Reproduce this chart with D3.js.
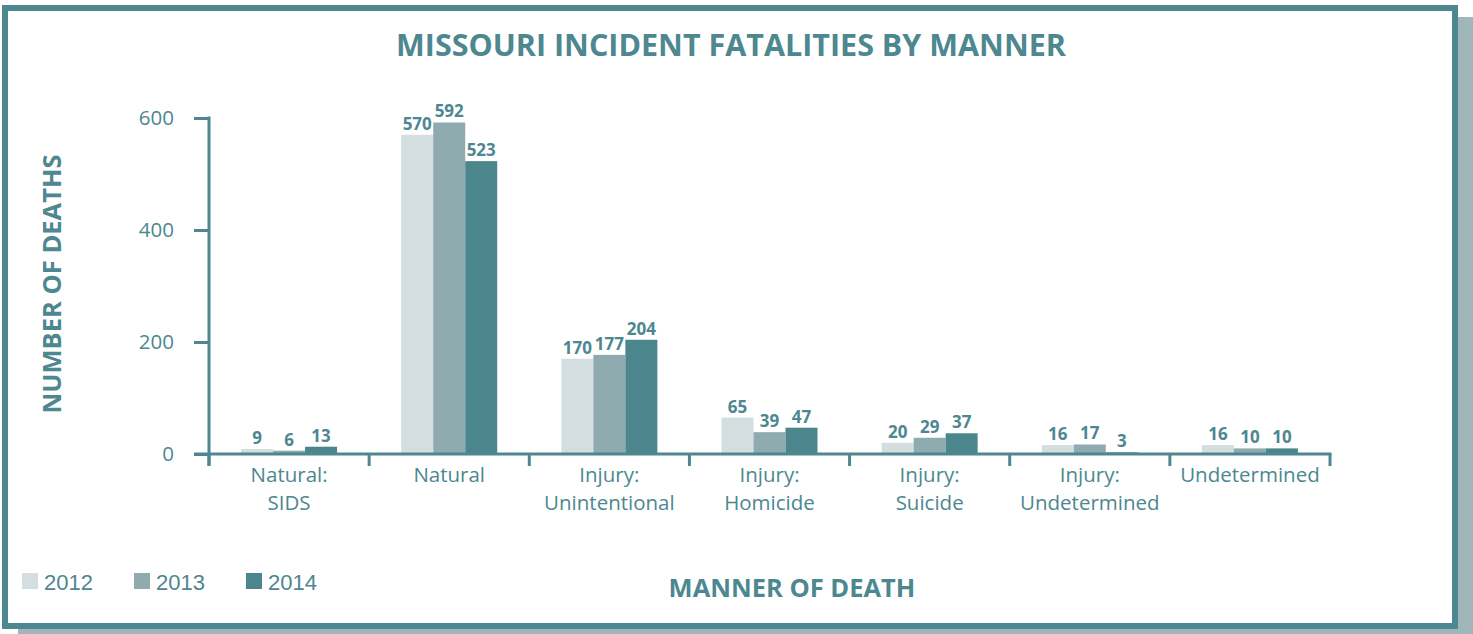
<!DOCTYPE html>
<html>
<head>
<meta charset="utf-8">
<script src="https://cdn.jsdelivr.net/npm/d3@7"></script>
<style>
  body { margin: 0; background: #fff; }
  text { font-family: "Open Sans", "Noto Sans", sans-serif; fill: #4d8790; }
</style>
</head>
<body>
<div id="chart"></div>
<script>
// data
const categories = [
    ["Natural:", "SIDS"],
    ["Natural"],
    ["Injury:", "Unintentional"],
    ["Injury:", "Homicide"],
    ["Injury:", "Suicide"],
    ["Injury:", "Undetermined"],
    ["Undetermined"]
];
const years = ["2012", "2013", "2014"];
const values2012 = [9, 570, 170, 65, 20, 16, 16];
const values2013 = [6, 592, 177, 39, 29, 17, 10];
const values2014 = [13, 523, 204, 47, 37, 3, 10];
const yTicks = [0, 200, 400, 600];
const colors = ["#d4dddf", "#90abb0", "#4c868d"];

const W = 1473, H = 634;
const teal = "#4d8790";

let svg = d3.select("#chart").append("svg")
    .attr("width", W)
    .attr("height", H);

// frame with shadow
svg.append("rect")
    .attr("x", 18).attr("y", 17)
    .attr("width", W - 18).attr("height", H - 17)
    .attr("fill", "#a0b6bb");
svg.append("rect")
    .attr("x", 5).attr("y", 8)
    .attr("width", 1450).attr("height", 618)
    .attr("fill", "#fff")
    .attr("stroke", teal)
    .attr("stroke-width", 6);

// title
svg.append("text")
    .attr("x", 731).attr("y", 56)
    .attr("text-anchor", "middle")
    .attr("font-weight", "bold")
    .attr("font-size", 30.5)
    .text("MISSOURI INCIDENT FATALITIES BY MANNER");

let margin = {left: 209, top: 118};
let width = 1330 - 209, height = 454 - 118;

let g = svg.append("g")
    .attr("transform", "translate(" + margin.left + "," + margin.top + ")");

// scales
let x0 = d3.scaleBand()
    .domain(d3.range(categories.length))
    .range([0, width]);
let x1 = d3.scaleBand()
    .domain(years)
    .range([(x0.bandwidth() - 96) / 2, (x0.bandwidth() + 96) / 2]);
let y = d3.scaleLinear()
    .domain([0, 600])
    .range([height, 0]);

let color = d3.scaleOrdinal().domain(years).range(colors);

// rows for grouped bars
let series = [values2012, values2013, values2014];
let rows = [];
categories.forEach((c, i) => {
    years.forEach((yr, j) => {
        rows.push({cat: i, year: yr, value: series[j][i]});
    });
});

// bars
g.selectAll(".bar")
    .data(rows)
    .enter()
    .append("rect")
    .attr("class", "bar")
    .attr("x", d => x0(d.cat) + x1(d.year))
    .attr("y", d => y(d.value))
    .attr("width", x1.bandwidth())
    .attr("height", d => height - y(d.value))
    .attr("fill", d => color(d.year));

// value labels
g.selectAll(".labels")
    .data(rows)
    .enter()
    .append("text")
    .attr("class", "labels")
    .attr("x", d => x0(d.cat) + x1(d.year) + x1.bandwidth() / 2)
    .attr("y", d => y(d.value) - 5)
    .attr("text-anchor", "middle")
    .attr("font-weight", "bold")
    .attr("font-size", 17)
    .text(d => d.value);

// y axis
let yAxis = d3.axisLeft(y)
    .tickValues(yTicks)
    .tickSize(15)
    .tickPadding(20);
let yG = g.append("g").call(yAxis);
yG.select(".domain").remove();
yG.selectAll(".tick line").attr("stroke", teal).attr("stroke-width", 3);
yG.selectAll(".tick text")
    .attr("font-size", 20.5)
    .attr("fill", teal)
    .attr("font-family", '"Open Sans", sans-serif');
g.append("line")
    .attr("x1", 0).attr("x2", 0)
    .attr("y1", -1.5).attr("y2", height + 12)
    .attr("stroke", teal).attr("stroke-width", 3);

// x axis: baseline and boundary ticks
g.append("line")
    .attr("x1", -15).attr("x2", width + 1.5)
    .attr("y1", height).attr("y2", height)
    .attr("stroke", teal).attr("stroke-width", 3);
g.selectAll(".xtick")
    .data(d3.range(categories.length + 1))
    .enter()
    .append("line")
    .attr("class", "xtick")
    .attr("x1", d => d < categories.length ? x0(d) : width)
    .attr("x2", d => d < categories.length ? x0(d) : width)
    .attr("y1", height)
    .attr("y2", height + 12)
    .attr("stroke", teal).attr("stroke-width", 3);

// category labels
let catText = g.selectAll(".cat")
    .data(categories)
    .enter()
    .append("text")
    .attr("class", "cat")
    .attr("text-anchor", "middle")
    .attr("font-size", 20.5)
    .attr("transform", (d, i) => "translate(" + (x0(i) + x0.bandwidth() / 2) + "," + (height + 28) + ")");
catText.selectAll("tspan")
    .data(d => d)
    .enter()
    .append("tspan")
    .attr("x", 0)
    .attr("dy", (d, i) => i === 0 ? 0 : 28)
    .text(d => d);

// axis titles
svg.append("text")
    .attr("transform", "translate(61,284) rotate(-90)")
    .attr("text-anchor", "middle")
    .attr("font-weight", "bold")
    .attr("font-size", 25.5)
    .text("NUMBER OF DEATHS");
svg.append("text")
    .attr("x", 792).attr("y", 597)
    .attr("text-anchor", "middle")
    .attr("font-weight", "bold")
    .attr("font-size", 25.5)
    .text("MANNER OF DEATH");

// legend
let legend = svg.selectAll(".legend")
    .data(years)
    .enter()
    .append("g")
    .attr("class", "legend")
    .attr("transform", (d, i) => "translate(" + (22 + i * 112) + ",573)");
legend.append("rect")
    .attr("width", 16).attr("height", 16)
    .attr("fill", d => color(d));
legend.append("text")
    .attr("x", 22).attr("y", 17)
    .attr("font-size", 22)
    .style("font-family", '"Liberation Sans", Arial, sans-serif')
    .text(d => d);
</script>
</body>
</html>
